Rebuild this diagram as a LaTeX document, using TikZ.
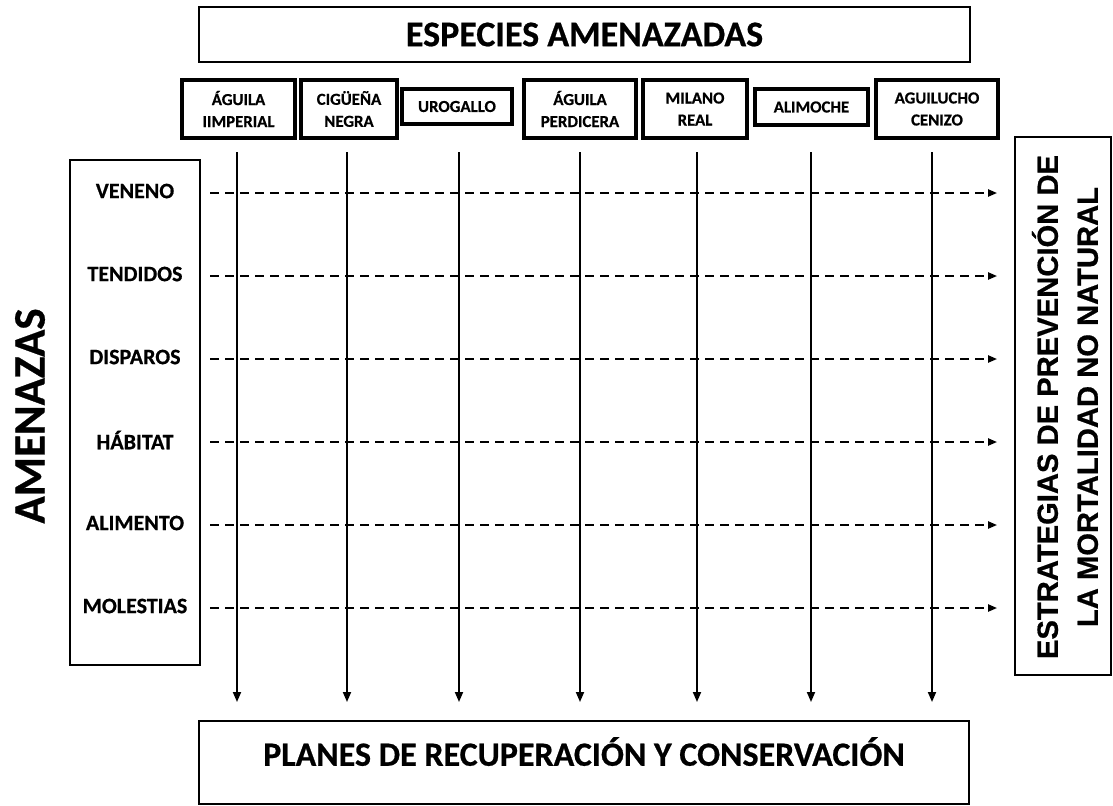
\documentclass[tikz,border=0pt]{standalone}
\usepackage{fontspec}
\setmainfont{Carlito}[BoldFeatures={FakeBold=0.6}]
\newfontfamily\arialfont{Liberation Sans}[BoldFeatures={FakeBold=0.6}]
\usetikzlibrary{arrows.meta}
\begin{document}
\begin{tikzpicture}[x=0.5pt,y=-0.5pt]
\tikzstyle{caja}=[draw,line width=1.9pt,align=center,inner sep=0pt,font=\bfseries\fontsize{8.4}{11}\selectfont]
\tikzstyle{marco}=[draw,line width=1.4pt,inner sep=0pt]
\tikzstyle{etiqueta}=[inner sep=0pt,font=\bfseries\fontsize{11}{13}\selectfont]
\tikzstyle{flecha}=[line width=0.9pt,-{Triangle[length=5pt,width=4pt]}]
\tikzstyle{trazos}=[line width=0.9pt,dash pattern=on 4.5pt off 3pt,-{Triangle[length=4.5pt,width=3.6pt]}]
\useasboundingbox (0,0) rectangle (1113,805);
% cajas principales
\node[marco,minimum width=385.5pt,minimum height=27.5pt,font=\bfseries\fontsize{18}{20}\selectfont] (especies) at (584.5,34.5) {ESPECIES AMENAZADAS};
\node[marco,minimum width=65pt,minimum height=252.5pt] (amenazasbox) at (135,412.5) {};
\node[marco,minimum width=48pt,minimum height=269pt] (estrategias) at (1063,406) {};
\node[marco,minimum width=385pt,minimum height=41.5pt,text height=0.644em,text depth=0.32em,font=\bfseries\fontsize{17}{20}\selectfont] (planes) at (584,762.5) {PLANES DE RECUPERACIÓN Y CONSERVACIÓN};
\node[rotate=90,inner sep=0pt,font=\bfseries\fontsize{22.5}{24}\selectfont] (amenazas) at (30,416) {AMENAZAS};
\node[rotate=90,inner sep=0pt,align=center,font=\arialfont\bfseries\fontsize{14.6}{20}\selectfont] (estrategiastxt) at (1065,407) {ESTRATEGIAS DE PREVENCIÓN DE\\LA MORTALIDAD NO NATURAL};
% especies
\foreach \name/\point/\ancho/\alto/\txt in {
	aimp/{238.5,109}/56.5/29/{ÁGUILA\\IIMPERIAL},
	cign/{349,109}/48/29/{CIGÜEÑA\\NEGRA},
	urog/{457,106.5}/55/17.5/{UROGALLO},
	aper/{580,109}/56/29/{ÁGUILA\\PERDICERA},
	mila/{695,109}/52/29/{MILANO\\REAL},
	alim/{811.5,107}/56.5/18/{ALIMOCHE},
	agui/{937,109}/61/29/{AGUILUCHO\\CENIZO}}
	\node[caja,minimum width=\ancho pt,minimum height=\alto pt] (\name) at (\point) {\txt};
% lineas verticales
\foreach \name/\xx in {c1/237,c2/347,c3/459,c4/580,c5/697,c6/811,c7/932}{
	\coordinate (\name top) at (\xx,152);
	\coordinate (\name tip) at (\xx,702);
	\draw[flecha] (\name top) -- (\name tip);
}
% amenazas
\foreach \name/\yy/\txt in {
	veneno/193/VENENO,
	tendidos/276/TENDIDOS,
	disparos/359/DISPAROS,
	habitat/442/HÁBITAT,
	alimento/525/ALIMENTO,
	molestias/608/MOLESTIAS}{
	\node[etiqueta] (\name) at (135,\yy-2) {\txt};
	\coordinate (\name a) at (210,\yy);
	\coordinate (\name b) at (997,\yy);
	\draw[trazos] (\name a) -- (\name b);
}
\end{tikzpicture}
\end{document}
